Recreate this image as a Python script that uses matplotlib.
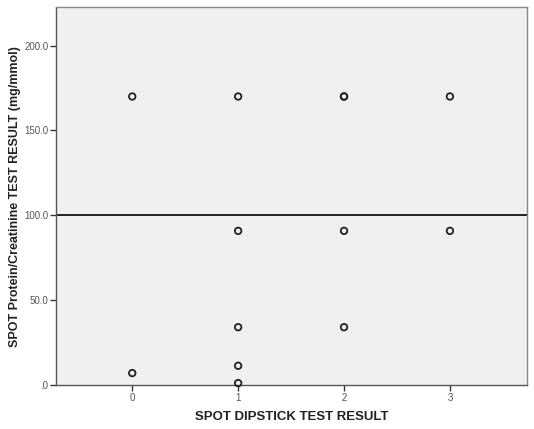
import matplotlib
matplotlib.use("Agg")
import matplotlib.pyplot as plt

dipstick = [0, 0, 1, 1, 1, 1, 1, 2, 2, 2, 2, 3, 3]
pcr = [170.0, 7.2, 170.0, 90.9, 34.2, 11.5, 1.3, 170.0, 170.0, 90.9, 34.2, 170.0, 90.9]
x_ticks = [0, 1, 2, 3]
y_ticks = [0, 50, 100, 150, 200]
y_ticklabels = [".0", "50.0", "100.0", "150.0", "200.0"]
ref_line = 100

plt.rcParams['font.family'] = ['Liberation Sans', 'DejaVu Sans']

fig = plt.figure(figsize=(5.34, 4.29), dpi=100)
ax = fig.add_axes([56/534, 1-385.3/429, (526.7-56)/534, (385.3-7.3)/429])
ax.set_facecolor('#f0f0f0')

ax.scatter(dipstick, pcr, s=22, facecolors='none', edgecolors='#222222',
           linewidths=1.3, zorder=3, clip_on=False)
ax.axhline(ref_line, color='#111111', lw=1.3, zorder=2)

ax.set_xlim(-0.72, 3.725)
ax.set_ylim(0, 222.5)
ax.set_xticks(x_ticks)
ax.set_xticklabels([str(v) for v in x_ticks])
ax.set_yticks(y_ticks)
ax.set_yticklabels(y_ticklabels)
ax.tick_params(axis='both', direction='out', length=4, width=1, color='#333333',
               labelsize=7, labelcolor='#555555', pad=1.5)

for side in ['top', 'right']:
    ax.spines[side].set_color('#888888')
for side in ['left', 'bottom']:
    ax.spines[side].set_color('#555555')
for s in ax.spines.values():
    s.set_linewidth(1.0)

ax.set_xlabel('SPOT DIPSTICK TEST RESULT', fontsize=9.5, fontweight='bold',
              color='#222222', labelpad=6)
ax.set_ylabel('SPOT Protein/Creatinine TEST RESULT (mg/mmol)', fontsize=9,
              fontweight='bold', color='#222222', labelpad=2)

fig.savefig('out.png', dpi=100)
